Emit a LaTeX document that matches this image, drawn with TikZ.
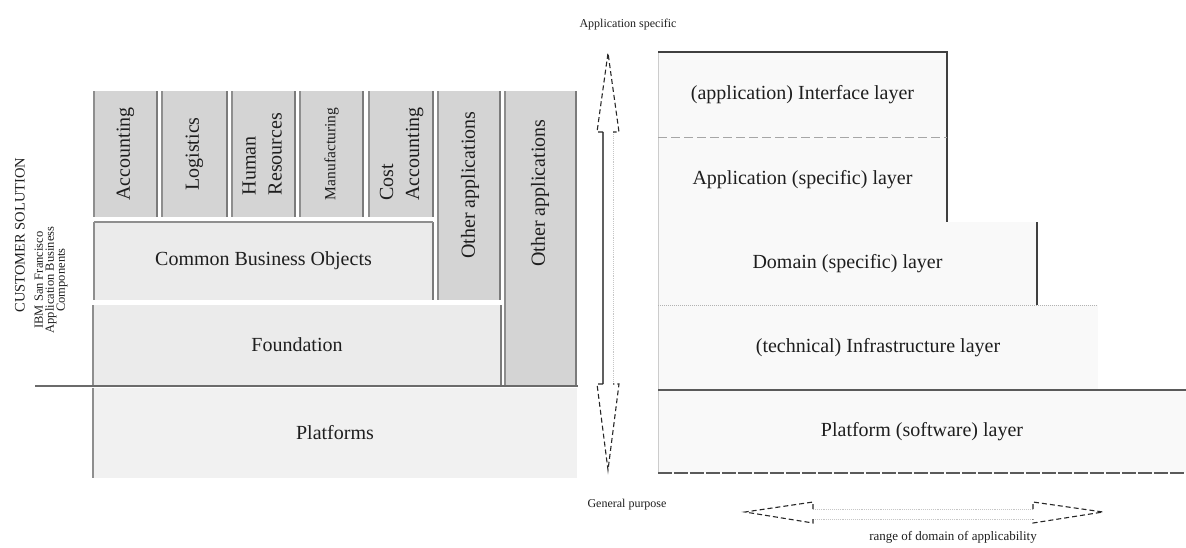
\documentclass[tikz,border=0pt]{standalone}
\usepackage{fontspec}
\setmainfont{Liberation Serif}
\usepackage{graphicx}
\definecolor{colfill}{HTML}{D4D4D4}
\definecolor{lightfill}{HTML}{EBEBEB}
\definecolor{platfill}{HTML}{F1F1F1}
\definecolor{layerfill}{HTML}{F9F9F9}
\definecolor{edgegray}{HTML}{8E8E8E}
\definecolor{edgedark}{HTML}{5A5A5A}
\definecolor{inkcol}{HTML}{1E1E1E}
\tikzset{
  sz/.style 2 args={minimum width=#1, minimum height=#2},
  bigtext/.style={font=\fontsize{20}{26}\selectfont, text=inkcol},
  leftedge/.style={draw=edgegray, line width=1.2pt},
  rightedge/.style={draw=edgedark!80, line width=1.6pt},
  block/.style={draw=none, inner sep=0pt, outer sep=0pt, anchor=north west, bigtext},
  colbox/.style={block, fill=colfill,
    append after command={(\tikzlastnode.north west) edge[leftedge] (\tikzlastnode.south west)
                          (\tikzlastnode.north east) edge[rightedge] (\tikzlastnode.south east)}},
  lightbox/.style={block, fill=lightfill,
    append after command={(\tikzlastnode.north west) edge[leftedge] (\tikzlastnode.south west)
                          (\tikzlastnode.north east) edge[rightedge] (\tikzlastnode.south east)}},
  platbox/.style={block, fill=platfill,
    append after command={(\tikzlastnode.north west) edge[leftedge] (\tikzlastnode.south west)}},
  layer/.style={block, fill=layerfill},
  solidline/.style={draw=edgedark, line width=1.3pt},
  headline/.style={draw=black!85, line width=1.1pt, dash pattern=on 5pt off 3pt},
  shaftdark/.style={draw=gray!75!black, line width=1.3pt},
  shaftlight/.style={draw=gray!45, line width=0.9pt, densely dotted},
  smalltext/.style={font=\fontsize{12}{14}\selectfont, text=inkcol},
}
\begin{document}
\begin{tikzpicture}[x=1pt,y=-1pt]
\useasboundingbox (0,0) rectangle (1186,547);

% ---------- left: component stack ----------
\node[colbox, sz={63pt}{126pt}] (acc)  at (94,91)  {\rotatebox{90}{Accounting}};
\node[colbox, sz={65pt}{126pt}] (logi) at (162,91) {\rotatebox{90}{Logistics}};
\node[colbox, sz={63pt}{126pt}] (hres) at (232,91)
  {\rotatebox{90}{\begin{tabular}{@{}l@{}}Human\\Resources\end{tabular}}};
\node[colbox, sz={63pt}{126pt}, font=\fontsize{15.5}{18}\selectfont] (manu) at (300,91)
  {\rotatebox{90}{Manufacturing}};
\node[colbox, sz={64pt}{126pt}] (cost) at (369,91)
  {\rotatebox{90}{\begin{tabular}{@{}l@{}}Cost\\Accounting\end{tabular}}};
\node[colbox, sz={62pt}{209pt}] (othA) at (438,91) {};
\node[bigtext, rotate=90] (othAtxt) at (470,185) {Other applications};

\node[lightbox, sz={339pt}{78pt}] (cbo) at (94,222) {Common Business Objects};
\draw[draw=edgegray, line width=1.2pt] (cbo.north west) -- (cbo.north east);

\node[lightbox, sz={408pt}{80pt}] (found) at (93,305) {Foundation};

\node[colbox, sz={71pt}{294pt}] (othB) at (505,91) {};
\node[bigtext, rotate=90] (othBtxt) at (540,193) {Other applications};

\node[platbox, sz={484pt}{90pt}] (plat) at (93,388) {Platforms};

% separator between solution components and platforms
\coordinate (sepL) at (35,386);
\coordinate (sepR) at (578,386);
\draw[solidline, draw=edgedark!90] (sepL) -- (sepR);

% side captions
\node[font=\fontsize{14.5}{17}\selectfont, text=inkcol, rotate=90] (cust) at (20,235)
  {CUSTOMER SOLUTION};
\node[font=\fontsize{12.5}{11}\selectfont, text=inkcol, rotate=90, align=center] (ibm) at (51,280)
  {IBM San Francisco\\Application Business\\Components};

% ---------- vertical double arrow ----------
\coordinate (vtop) at (608,53);
\coordinate (vbot) at (608,470);
\draw[shaftdark]  (603,132) -- (603,384);
\draw[shaftlight] (613,132) -- (613,384);
\draw[headline] (603,132) -- (597,132) -- (vtop) -- (619,132) -- (613,132);
\draw[headline] (603,384) -- (597,384) -- (vbot) -- (619,384) -- (613,384);

\node[smalltext] (spec) at (628,25)  {Application specific};
\node[smalltext] (gen)  at (627,505) {General purpose};

% ---------- right: layers ----------
\node[layer, sz={528pt}{83pt}] (platl) at (658,390) {Platform (software) layer};
\node[layer, sz={440pt}{85pt}] (infra) at (658,305) {(technical) Infrastructure layer};
\node[layer, sz={379pt}{83pt}] (dom)   at (658,222) {Domain (specific) layer};
\node[layer, sz={289pt}{85pt}] (appl)  at (658,137) {Application (specific) layer};
\node[layer, sz={289pt}{85pt}] (iface) at (658,52)  {(application) Interface layer};

\draw[draw=gray!40, line width=1pt] (iface.north west) -- (platl.south west);
\draw[solidline, draw=black!75] (iface.north west) -- (iface.north east) -- (appl.south east);
\draw[draw=gray!70, line width=1pt, dash pattern=on 9pt off 4pt] (iface.south west) -- (iface.south east);
\draw[solidline, draw=black!75] (dom.north east) -- (dom.south east);
\draw[draw=gray!60, line width=1pt, densely dotted] (infra.north west) -- (infra.north east);
\draw[solidline] (platl.north west) -- (platl.north east);
\draw[draw=edgedark, line width=1.5pt, dash pattern=on 14pt off 2pt] (platl.south west) -- (platl.south east);

% ---------- horizontal double arrow ----------
\coordinate (hlt) at (745,512);
\coordinate (hrt) at (1103,512);
\draw[shaftlight] (813,509) -- (1033,509);
\draw[shaftlight] (813,519) -- (1033,519);
\draw[headline] (813,509) -- (813,502) -- (hlt) -- (813,523) -- (813,519);
\draw[headline] (1033,509) -- (1033,502) -- (hrt) -- (1033,523) -- (1033,519);

\node[font=\fontsize{13}{15}\selectfont, text=inkcol] (range) at (953,537)
  {range of domain of applicability};
\end{tikzpicture}
\end{document}
